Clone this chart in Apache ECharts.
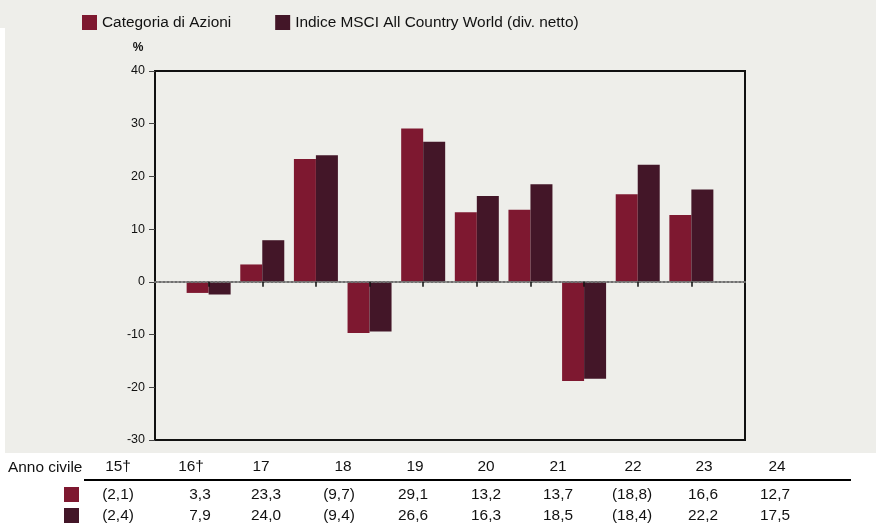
<!DOCTYPE html>
<html>
<head>
<meta charset="utf-8">
<script src="https://cdn.jsdelivr.net/npm/echarts@6/dist/echarts.min.js"></script>
<style>
html,body{margin:0;padding:0;background:#fff;}
#chart{width:876px;height:528px;}
</style>
</head>
<body>
<div id="chart"></div>
<script>
// ---- data ----
const years = ['15†','16†','17','18','19','20','21','22','23','24'];
const categoria = [-2.1, 3.3, 23.3, -9.7, 29.1, 13.2, 13.7, -18.8, 16.6, 12.7];
const indice = [-2.4, 7.9, 24.0, -9.4, 26.6, 16.3, 18.5, -18.4, 22.2, 17.5];
const seriesNames = ['Categoria di Azioni', 'Indice MSCI All Country World (div. netto)'];
const yTicks = [-30, -20, -10, 0, 10, 20, 30, 40];

// ---- layout ----
const colors = ['#7e1830', '#431628'];
const FONT = '"Liberation Sans", Arial, sans-serif';
const headerX = [118, 191, 261, 343, 415, 486, 558, 633, 704, 777];
const valueX  = [118, 200, 266, 339, 413, 486, 558, 632, 703, 775];

function fmt(v){
  const s = Math.abs(v).toFixed(1).replace('.', ',');
  return v < 0 ? '(' + s + ')' : s;
}

const axisCats = [''].concat(years, ['']);
const pad = arr => [null].concat(arr, [null]);

const graphics = [];
// background panels
graphics.push({type:'rect', z:-10, shape:{x:0,y:0,width:876,height:28}, style:{fill:'#eeeeea'}, silent:true});
graphics.push({type:'rect', z:-10, shape:{x:5,y:28,width:871,height:425}, style:{fill:'#eeeeea'}, silent:true});
// percent label
graphics.push({type:'text', x:138, y:48, style:{text:'%', font:'bold 12px ' + FONT, fill:'#111', align:'center', verticalAlign:'middle'}});
// table
const TF = '15.4px ' + FONT;
graphics.push({type:'text', x:8, y:468, style:{text:'Anno civile', font:TF, fill:'#111', align:'left', verticalAlign:'middle'}});
graphics.push({type:'line', shape:{x1:84,y1:480,x2:851,y2:480}, style:{stroke:'#000', lineWidth:2}});
graphics.push({type:'rect', shape:{x:64,y:487,width:15,height:15}, style:{fill:colors[0]}});
graphics.push({type:'rect', shape:{x:64,y:508,width:15,height:15}, style:{fill:colors[1]}});
years.forEach((y, i) => {
  graphics.push({type:'text', x:headerX[i], y:467, style:{text:y, font:TF, fill:'#111', align:'center', verticalAlign:'middle'}});
  graphics.push({type:'text', x:valueX[i], y:495, style:{text:fmt(categoria[i]), font:TF, fill:'#111', align:'center', verticalAlign:'middle'}});
  graphics.push({type:'text', x:valueX[i], y:516, style:{text:fmt(indice[i]), font:TF, fill:'#111', align:'center', verticalAlign:'middle'}});
});

const chart = echarts.init(document.getElementById('chart'), null, {renderer:'canvas'});
chart.setOption({
  backgroundColor:'#ffffff',
  animation:false,
  textStyle:{fontFamily:FONT},
  legend:{
    left:77, top:10, itemWidth:15, itemHeight:15, itemGap:44, icon:'rect',
    textStyle:{fontSize:15.4, color:'#111', fontFamily:FONT, padding:[0,0,0,0]},
    data:seriesNames
  },
  grid:{left:155, right:131, top:71, bottom:88, show:true, borderColor:'#111', borderWidth:2, backgroundColor:'transparent'},
  xAxis:{
    type:'category', data:axisCats, boundaryGap:false, z:3,
    axisLine:{onZero:true, lineStyle:{color:'#707070', type:[2,2], width:2}},
    axisTick:{show:true, length:5, lineStyle:{color:'#111', width:1.5}, interval:(i) => i > 0 && i < axisCats.length - 1},
    axisLabel:{show:false},
    splitLine:{show:false}
  },
  yAxis:{
    type:'value', min:yTicks[0], max:yTicks[yTicks.length-1], interval:10,
    axisLine:{show:false},
    axisTick:{show:true, length:6, lineStyle:{color:'#444', width:1}},
    axisLabel:{fontSize:12.5, color:'#111', margin:10, fontFamily:FONT},
    splitLine:{show:false}
  },
  series:[
    {name:seriesNames[0], type:'bar', data:pad(categoria), barWidth:22, barGap:'0%', itemStyle:{color:colors[0]}},
    {name:seriesNames[1], type:'bar', data:pad(indice), barWidth:22, barGap:'0%', itemStyle:{color:colors[1]}}
  ],
  graphic:graphics
});
</script>
</body>
</html>
